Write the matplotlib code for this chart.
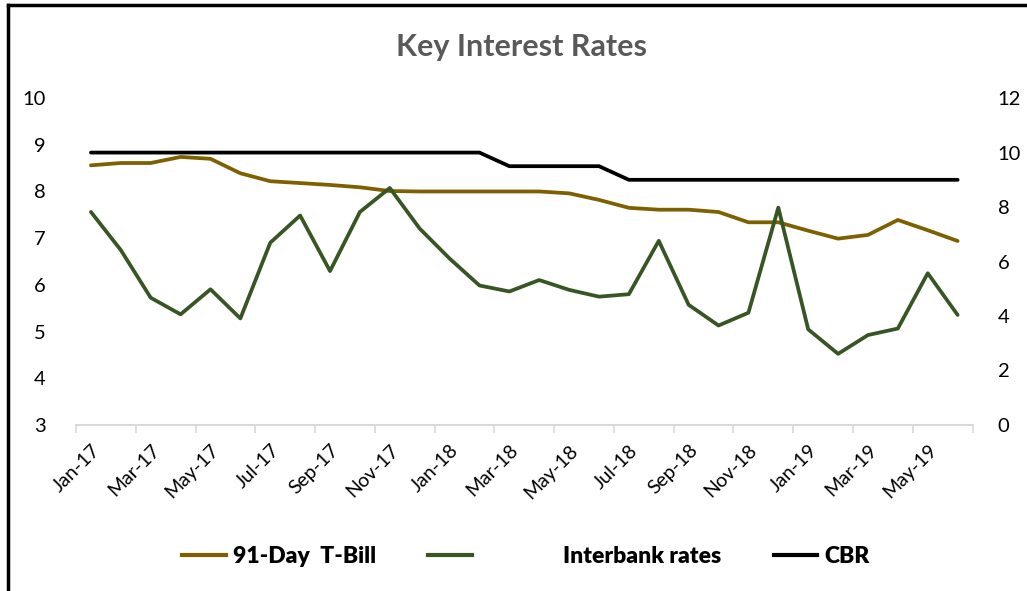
import matplotlib.pyplot as plt
import numpy as np
from matplotlib.lines import Line2D

months = ["Jan-17", "Feb-17", "Mar-17", "Apr-17", "May-17", "Jun-17", "Jul-17", "Aug-17",
          "Sep-17", "Oct-17", "Nov-17", "Dec-17", "Jan-18", "Feb-18", "Mar-18", "Apr-18",
          "May-18", "Jun-18", "Jul-18", "Aug-18", "Sep-18", "Oct-18", "Nov-18", "Dec-18",
          "Jan-19", "Feb-19", "Mar-19", "Apr-19", "May-19", "Jun-19"]

tbill = [8.56, 8.61, 8.61, 8.74, 8.70, 8.39, 8.22, 8.18, 8.14, 8.09, 8.01, 8.00, 8.00, 8.00,
         8.00, 8.00, 7.96, 7.82, 7.65, 7.61, 7.61, 7.56, 7.34, 7.34, 7.16, 6.99, 7.07, 7.39,
         7.17, 6.94]
interbank = [7.82, 6.42, 4.67, 4.06, 4.98, 3.91, 6.69, 7.69, 5.65, 7.82, 8.70, 7.21, 6.11,
             5.12, 4.90, 5.32, 4.96, 4.71, 4.80, 6.76, 4.41, 3.65, 4.12, 7.98, 3.51, 2.61,
             3.30, 3.54, 5.57, 4.04]
cbr = [10.0] * 14 + [9.5] * 4 + [9.0] * 12

plt.rcParams['font.family'] = ['Lato', 'DejaVu Sans']

fig = plt.figure(figsize=(10.27, 5.91), dpi=100)
ax = fig.add_axes([0.074, 0.281, 0.873, 0.553])
ax2 = ax.twinx()

x = np.arange(len(months))
c_tb = '#7F6000'
c_ib = '#375623'
ax.plot(x, tbill, color=c_tb, lw=2.7, solid_capstyle='round', zorder=3)
ax2.plot(x, interbank, color=c_ib, lw=2.7, solid_capstyle='round')
ax2.plot(x, cbr, color='black', lw=2.7, solid_capstyle='round')

ax.set_xlim(-0.5, len(months) - 0.5)
ax.set_ylim(3, 10)
ax2.set_ylim(0, 12)
ax.set_yticks(range(3, 11))
ax2.set_yticks(range(0, 13, 2))

# label every other month, tick marks between category pairs
ax.set_xticks(x[::2])
ax.set_xticklabels(months[::2], rotation=45, ha='right', rotation_mode='anchor', fontsize=14)
ax.set_xticks(np.arange(-0.5, len(months), 2), minor=True)
ax.tick_params(axis='x', which='major', length=0, pad=12)
ax.tick_params(axis='x', which='minor', length=6, color='#D9D9D9', width=1.2)
ax.tick_params(axis='y', length=0, labelsize=14.5, pad=22)
ax2.tick_params(axis='y', length=0, labelsize=14.5, pad=18)

for a in (ax, ax2):
    for s in ('top', 'left', 'right', 'bottom'):
        a.spines[s].set_visible(False)
ax.spines['bottom'].set_visible(True)
ax.spines['bottom'].set_color('#D9D9D9')
ax.spines['bottom'].set_linewidth(1.5)

fig.text(0.508, 0.92, "Key Interest Rates", ha='center', va='center',
         fontsize=22, fontweight='bold', color='#595959')

handles = [Line2D([], [], color=c_tb, lw=3),
           Line2D([], [], color=c_ib, lw=3),
           Line2D([], [], color='black', lw=3)]
labels = ["91-Day  T-Bill", "                Interbank rates", "CBR"]
fig.legend(handles, labels, loc='center', bbox_to_anchor=(0.512, 0.058), ncol=3,
           frameon=False, handlelength=1.9, handletextpad=0.3, columnspacing=2.3,
           prop={'weight': 'heavy', 'size': 16.5})

# outer border (top and left edges)
fig.add_artist(Line2D([0.0078, 1.0], [0.991, 0.991], color='black', lw=2.5,
                      transform=fig.transFigure))
fig.add_artist(Line2D([0.0078, 0.0078], [0.0, 0.991], color='black', lw=2.5,
                      transform=fig.transFigure))

fig.savefig('out.png', dpi=100)
